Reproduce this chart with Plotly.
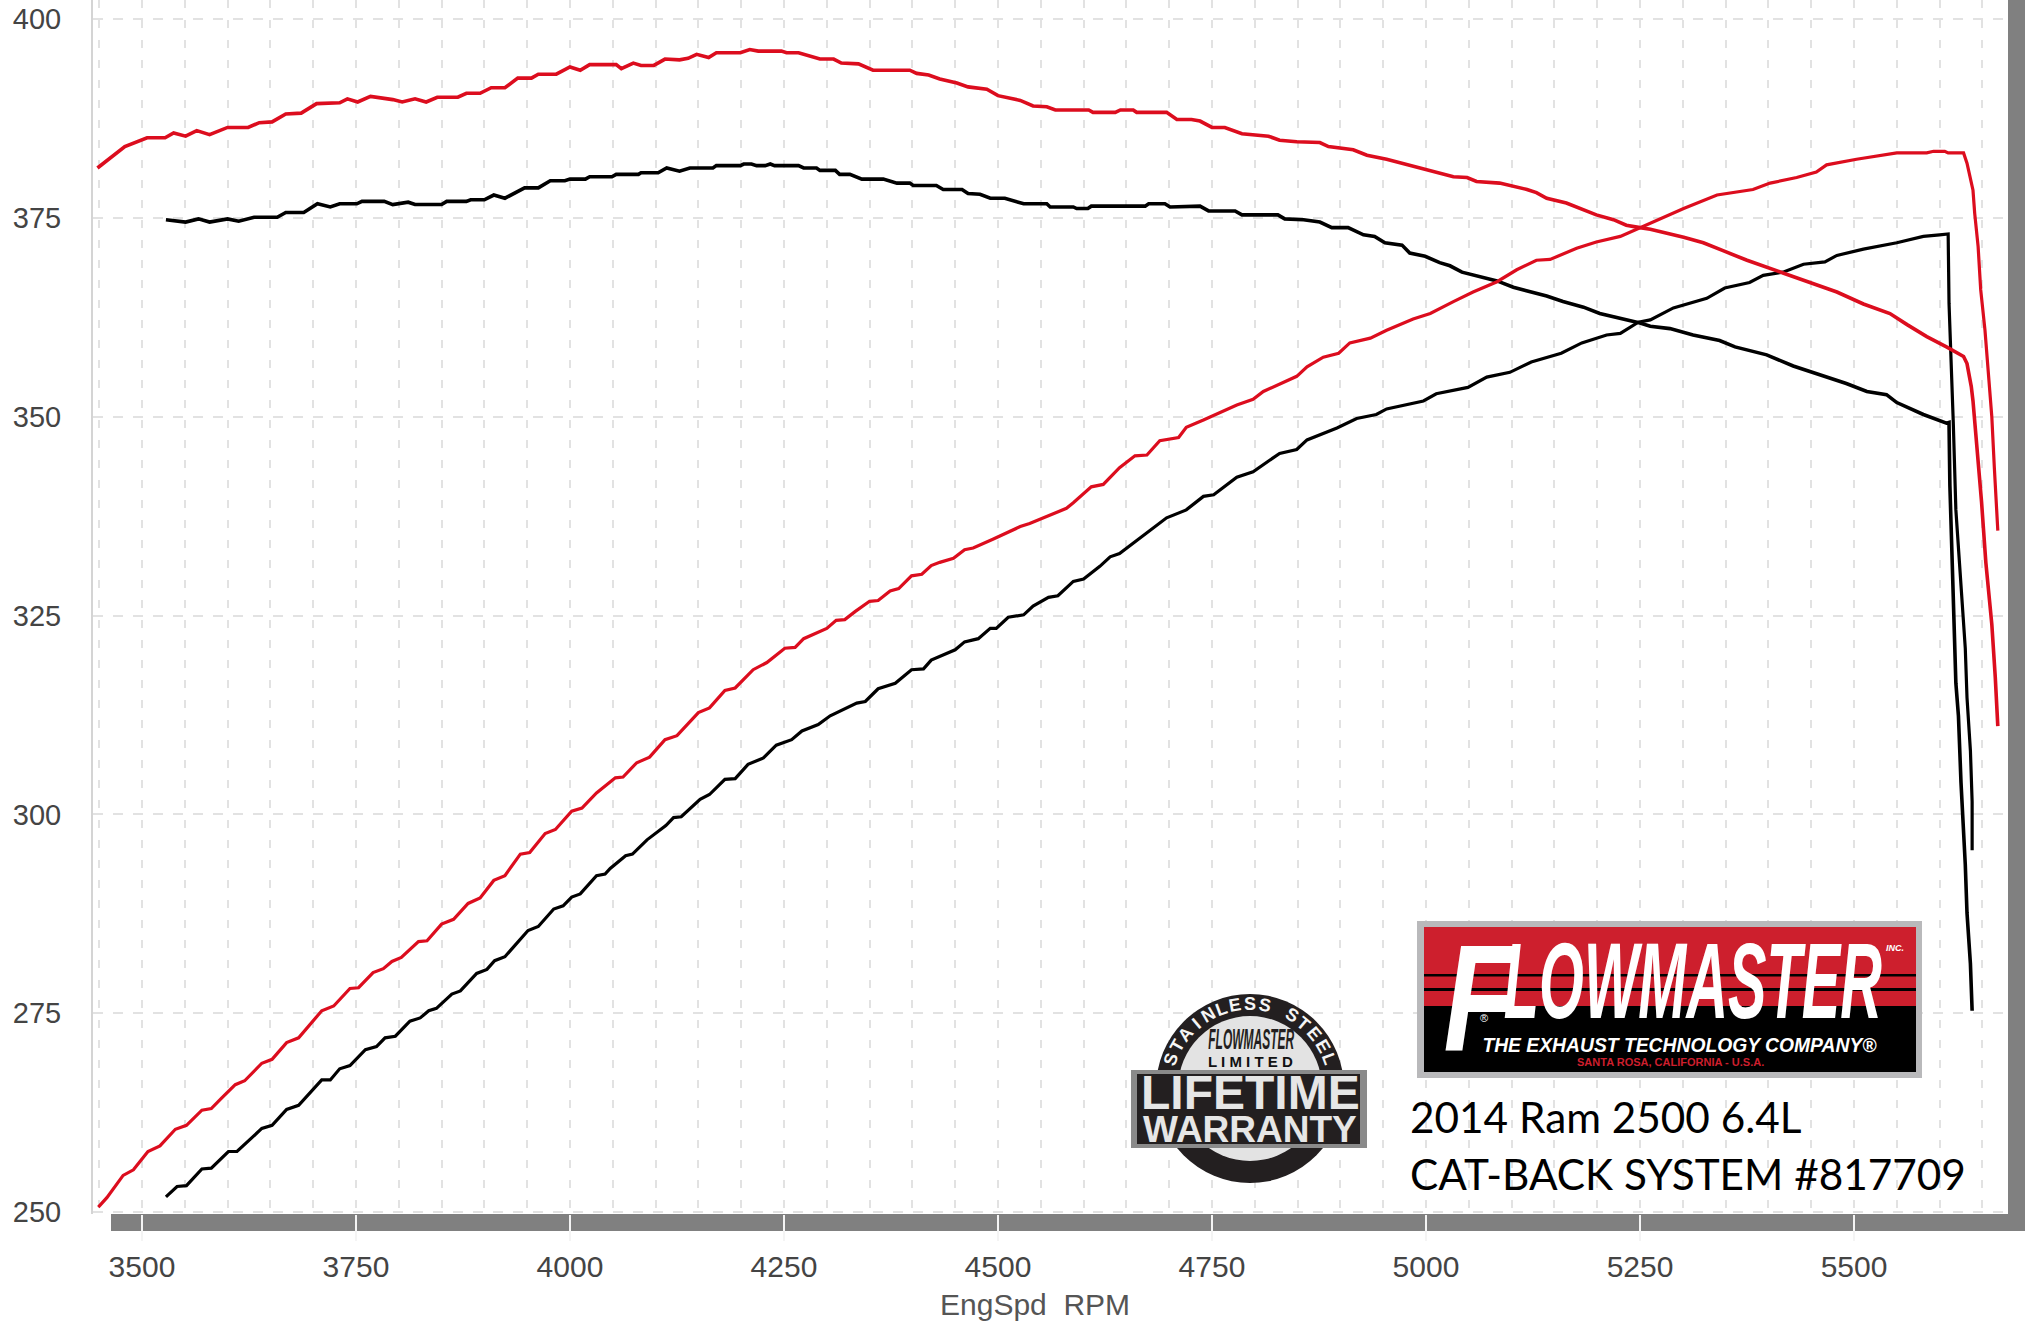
import json
import math
import plotly.graph_objects as go

# ---------- data ----------
red_top_rpm = [3448,3480,3506,3527,3537,3551,3564,3579,3600,3624,3637,3652,3668,3686,3704,3731,3740,3752,3767,3793,3804,3819,3832,3845,3869,3879,3895,3908,3924,3939,3955,3963,3984,4000,4012,4023,4054,4060,4074,4083,4098,4111,
4128,4138,4148,4162,4171,4199,4210,4220,4247,4253,4267,4282,4292,4308,4317,4337,4354,4397,4405,4419,4432,4452,4465,4487,4500,4526,4541,4557,4567,4606,4611,4637,4643,4658,4662,4697,4709,4726,
4736,4750,4765,4785,4816,4829,4849,4876,4886,4915,4931,4954,4985,5016,5032,5048,5059,5086,5118,5129,5141,5164,5199,5219,5234,5250,
5262,5301,5324,5347,5375,5417,5449,5480,5511,5542,5562,5585,5608,5628,5632,5637,5639,5643,5649,5654,5661,5665,5668]
red_top_val = [381.3,384.0,385.1,385.1,385.7,385.3,386.0,385.5,386.4,386.4,387.0,387.1,388.1,388.2,389.4,389.5,390.0,389.6,390.3,389.9,389.6,390.0,389.6,390.2,390.2,390.7,390.7,391.4,391.4,392.6,392.6,393.1,393.1,394.0,393.6,394.3,394.3,393.8,394.5,394.2,394.2,395.0,
394.9,395.1,395.6,395.2,395.8,395.8,396.2,396.0,396.0,395.8,395.8,395.3,395.0,395.0,394.5,394.4,393.6,393.6,393.2,393.0,392.5,392.0,391.5,391.2,390.4,389.8,389.1,389.0,388.6,388.6,388.3,388.3,388.6,388.6,388.3,388.3,387.4,387.4,
387.2,386.4,386.4,385.6,385.3,384.8,384.6,384.5,384.0,383.6,382.9,382.4,381.5,380.7,380.2,380.1,379.6,379.4,378.6,378.2,377.5,376.9,375.4,374.8,374.1,373.8,
373.6,372.6,371.9,370.9,369.7,368.1,366.9,365.7,364.2,363.0,361.6,360.1,358.8,357.6,356.7,353.8,352.0,347.0,339.3,331.7,323.9,317.3,311.1]

black_top_rpm = [3528,3551,3566,3579,3600,3613,3631,3658,3668,3689,3705,3720,3731,3751,3757,3783,3793,3811,3819,3850,3856,3879,3884,3900,3911,3924,3947,3963,3977,3994,4000,4018,4023,4049,4054,4080,4083,4103,4113,
4128,4140,4167,4171,4199,4203,4212,4218,4228,4234,4239,4267,4273,4288,4292,4310,4315,4327,4341,4366,4382,4397,4401,4428,4436,4458,4465,4479,4491,4508,4530,4557,4561,4588,4592,4605,4609,4672,4676,4695,4701,
4736,4746,4777,4785,4827,4835,4857,4876,4890,4909,4927,4940,4952,4972,4981,4999,5016,5028,5042,5063,5083,5102,5141,5160,5184,5203,5227,5250,
5262,5285,5312,5343,5361,5398,5429,5460,5491,5515,5538,5550,5581,5608,5611,5612,5614,5617,5619,5622,5625,5630,5632,5636,5638]
black_top_val = [374.8,374.5,374.9,374.5,374.9,374.6,375.1,375.1,375.7,375.7,376.8,376.4,376.8,376.8,377.1,377.1,376.7,377.0,376.7,376.7,377.1,377.1,377.3,377.3,377.9,377.5,378.8,378.8,379.7,379.7,379.9,379.9,380.2,380.2,380.5,380.5,380.7,380.7,381.3,
380.9,381.3,381.3,381.6,381.6,381.8,381.8,381.6,381.6,381.8,381.6,381.6,381.3,381.3,381.0,381.0,380.5,380.5,379.9,379.9,379.4,379.4,379.1,379.1,378.6,378.6,378.1,378.0,377.5,377.5,376.8,376.8,376.4,376.4,376.2,376.2,376.5,376.5,376.8,376.8,376.4,
376.5,375.9,375.9,375.4,375.4,374.9,374.8,374.5,373.8,373.8,372.9,372.7,371.9,371.6,370.6,370.2,369.4,369.0,368.2,367.6,367.1,366.3,365.2,364.5,363.8,363.0,362.4,361.8,
361.4,361.1,360.3,359.6,358.8,357.8,356.4,355.3,354.2,353.2,352.8,351.8,350.3,349.2,349.3,341.4,333.2,325.0,316.5,312.4,304.0,293.7,287.6,281.2,275.3]

red_rise_rpm = [3449,3459,3478,3490,3507,3521,3539,3552,3570,3581,3593,3609,3620,3640,3652,3669,3683,3710,3724,3743,3753,3770,3782,3792,3803,3823,3833,3850,3864,3881,3895,3911,3924,3942,3953,3971,3983,4002,4014,4031,
4053,4062,4078,4093,4111,4125,4150,4163,4181,4193,4214,4230,4251,4263,4273,4300,4311,4321,4333,4350,4360,4374,4384,4399,4411,4422,4432,4448,4461,4471,4494,4526,4537,4580,4588,4609,4623,
4642,4660,4674,4689,4711,4720,4740,4779,4798,4810,4849,4861,4880,4898,4911,4935,4954,4985,5005,5032,5055,5083,5106,5129,5145,5176,5199,5227,5248,
5275,5301,5340,5382,5402,5433,5456,5468,5503,5530,5550,5585,5593,5606,5610,5628,5632,5639,5641,5645,5648,5653,5657,5661,5664,5668]
red_rise_val = [250.6,251.8,254.6,255.3,257.6,258.3,260.4,260.9,262.8,263.0,264.3,266.0,266.5,268.7,269.2,271.3,271.9,275.3,275.9,278.1,278.2,280.1,280.6,281.5,282.0,284.0,284.1,286.2,286.8,288.8,289.5,291.7,292.3,295.0,295.2,297.6,298.1,300.4,300.8,302.7,
304.6,304.7,306.5,307.2,309.4,309.9,312.8,313.4,315.6,315.9,318.2,319.1,320.9,321.0,322.1,323.4,324.4,324.5,325.5,326.8,326.9,328.1,328.4,330.0,330.2,331.3,331.7,332.2,333.3,333.5,334.6,336.2,336.6,338.5,339.2,341.2,341.5,
343.6,345.1,345.2,347.0,347.4,348.7,349.6,351.5,352.2,353.2,355.1,356.3,357.5,358.0,359.3,359.9,360.9,362.3,363.0,364.5,365.7,367.0,368.5,369.7,369.8,371.2,372.0,372.7,373.7,
375.0,376.2,377.9,378.6,379.4,380.1,380.8,381.7,382.4,382.9,383.2,383.2,383.4,383.4,383.2,383.2,381.9,378.5,375.6,371.4,366.0,360.9,355.1,350.0,343.5,335.7]

black_rise_rpm = [3528,3541,3552,3570,3581,3601,3611,3640,3652,3669,3683,3710,3720,3731,3743,3761,3774,3784,3796,3813,3825,3835,3844,3862,3872,3891,3903,3912,3924,3951,3963,3981,3992,4002,4012,4031,4041,4047,4065,4073,4090,4105,4112,
4121,4130,4152,4163,4181,4193,4208,4226,4241,4259,4271,4290,4304,4335,4345,4360,4380,4399,4413,4422,4450,4461,4477,4491,4498,4512,4530,4541,4559,4570,4588,4600,4619,4631,4642,
4697,4720,4740,4752,4779,4798,4829,4849,4861,4896,4919,4942,4954,4997,5012,5049,5071,5098,5123,5158,5182,5211,5227,5248,
5262,5289,5328,5349,5378,5394,5417,5441,5466,5480,5511,5550,5581,5600,5610,5611,5614,5616,5619,5624,5630,5632,5636,5638,5638]
black_rise_val = [251.9,253.2,253.3,255.4,255.5,257.6,257.6,260.5,260.9,262.9,263.4,266.6,266.6,268.0,268.4,270.4,270.8,271.9,272.1,274.0,274.4,275.3,275.6,277.4,277.8,280.0,280.5,281.6,282.1,285.4,285.9,288.1,288.5,289.6,290.0,292.3,292.5,293.2,294.8,295.0,296.8,298.0,298.6,
299.6,299.7,301.9,302.5,304.4,304.5,306.3,307.1,308.7,309.4,310.5,311.3,312.4,314.0,314.2,315.8,316.5,318.2,318.3,319.4,320.7,321.7,322.1,323.4,323.4,324.8,325.1,326.2,327.3,327.5,329.3,329.6,331.2,332.4,332.8,
337.3,338.3,340.0,340.2,342.4,343.1,345.4,345.9,347.1,348.6,349.8,350.3,351.0,352.0,352.9,353.7,355.0,355.6,356.9,358.0,359.3,360.3,360.5,361.9,
362.2,363.7,364.9,366.2,366.9,367.8,368.2,369.2,369.5,370.3,371.1,371.9,372.7,372.9,373.0,364.3,355.9,349.2,338.3,330.0,320.9,314.7,308.0,301.6,295.5]

x_tick_vals = [3500,3750,4000,4250,4500,4750,5000,5250,5500]
y_tick_vals = [250,275,300,325,350,375,400]
x_title = "EngSpd  RPM"
caption_lines = ["2014 Ram 2500 6.4L", "CAT-BACK SYSTEM #817709"]
arc_text = "STAINLESS STEEL"

# ---------- page geometry ----------
W, H = 2025, 1321
L, R, B = 93, 2008, 1214
RED, BLACK = "#dc0d1e", "#000000"
LOGO_RED = "#cd1f2d"
SANS = "Liberation Sans"

def X(px): return (px - L) / (R - L)
def Y(py): return (B - py) / B

shapes, notes = [], []
def box(x0, y0, x1, y1, color, layer="above", kind="rect"):
    shapes.append(dict(type=kind, xref="paper", yref="paper", x0=X(x0), x1=X(x1), y0=Y(y1), y1=Y(y0),
                       fillcolor=color, line=dict(width=0), layer=layer))
def label(px, py, text, size, color, family=SANS, weight=400, style="normal", angle=0, xanchor="center"):
    notes.append(dict(xref="paper", yref="paper", x=X(px), y=Y(py), text=text, showarrow=False,
                      xanchor=xanchor, yanchor="middle", textangle=angle, borderpad=0, borderwidth=0,
                      font=dict(family=family, size=size, color=color, weight=weight, style=style)))

# frame bars
box(111, 1214, W, 1231, "#808080", layer="below")
box(R, 0, W, 1231, "#808080", layer="below")

# warranty badge
box(1156, 994, 1344, 1183, "#231f20", kind="circle")
box(1178, 1016, 1322, 1161, "#e3e3e3", kind="circle")
box(1131, 1070, 1367, 1148, "#8a8a8a")
box(1137, 1074, 1360, 1144, "#231f20")
for i, ch in enumerate(arc_text):
    ang = -70 + 10 * i
    if ch == " ":
        continue
    rad = math.radians(ang)
    label(1250 + 84 * math.sin(rad), 1088 - 84 * math.cos(rad), ch, 18, "#f5f5f5", weight=700, angle=ang)
label(1251, 1039, "FLOWMASTER", 26, "#231f20", weight=700, style="italic")
label(1250, 1061, "L I M I T E D", 15, "#111111", weight=700)
label(1250, 1092, "LIFETIME", 48, "#e6e6e6", weight=700)
label(1250, 1129, "WARRANTY", 37, "#e6e6e6", weight=700)

# Flowmaster logo
box(1417, 921, 1922, 1078, "#b9b9bb")
box(1424, 927, 1916, 1006, LOGO_RED)
box(1424, 1006, 1916, 1072, "#000000")
box(1424, 974, 1916, 976.5, "#000000")
box(1424, 988, 1916, 991, "#000000")
label(1480, 997, "F", 150, "#ffffff", weight=700, style="italic")
label(1693, 981, "LOWMASTER", 104, "#ffffff", weight=700, style="italic")
label(1895, 948, "INC.", 9, "#ffffff", weight=700, style="italic")
label(1484, 1018, "®", 11, "#ffffff")
label(1679, 1044, "THE EXHAUST TECHNOLOGY COMPANY®", 21, "#ffffff", weight=700, style="italic")
label(1670, 1062, "SANTA ROSA, CALIFORNIA - U.S.A.", 11, LOGO_RED, weight=700)

# caption
label(1410, 1116, caption_lines[0], 42.3, "#000000", family="Lato", xanchor="left")
label(1410, 1173, caption_lines[1], 42.3, "#000000", family="Lato", xanchor="left")

# axis title
label(1035, 1304, x_title, 30, "#555555", family=SANS)

fig = go.Figure()
for xs, ys, color, width in [
    (black_top_rpm, black_top_val, BLACK, 3.6),
    (black_rise_rpm, black_rise_val, BLACK, 3.2),
    (red_top_rpm, red_top_val, RED, 3.6),
    (red_rise_rpm, red_rise_val, RED, 3.2),
]:
    fig.add_trace(go.Scatter(x=xs, y=ys, mode="lines", line=dict(color=color, width=width), showlegend=False))

GRID = "#e2e2e2"
fig.update_layout(
    width=W, height=H, margin=dict(l=L, r=W - R, t=0, b=H - B, autoexpand=False),
    paper_bgcolor="white", plot_bgcolor="white", shapes=shapes, annotations=notes, showlegend=False,
    xaxis=dict(range=[3442.8, 5679.9], tickmode="array", tickvals=x_tick_vals, ticktext=[str(v) for v in x_tick_vals],
               ticks="outside", ticklen=26, tickcolor="#f4f4f4", tickwidth=2, zeroline=False,
               showgrid=True, gridcolor=GRID, gridwidth=1.5, griddash="8px,12px",
               minor=dict(dtick=50, tick0=3500, showgrid=True, gridcolor=GRID, gridwidth=1.5, griddash="8px,12px", ticks=""),
               tickfont=dict(family=SANS, size=30, color="#444444"), showline=False),
    yaxis=dict(range=[249.74, 402.43], tickmode="array", tickvals=y_tick_vals, ticktext=[str(v) for v in y_tick_vals],
               ticks="outside", ticklen=24, tickcolor="rgba(0,0,0,0)", zeroline=False,
               showgrid=True, gridcolor=GRID, gridwidth=1.5, griddash="10px,10px",
               tickfont=dict(family=SANS, size=29, color="#444444"),
               showline=True, linecolor="#d4d4d4", linewidth=2),
)

# logo wordmarks are condensed lettering: target width in pixels, vertical stretch
fit = {"F": [74, 1.02], "LOWMASTER": [378, 1.03], "FLOWMASTER": [86, 1.1],
       "THE EXHAUST TECHNOLOGY COMPANY®": [395, 1.0]}
post = """
document.body.style.margin = '0';
var FIT = %s;
setTimeout(function () {
  document.querySelectorAll('text.annotation-text').forEach(function (t) {
    var f = FIT[t.textContent];
    if (!f) return;
    var b = t.getBBox(), cx = b.x + b.width / 2, cy = b.y + b.height / 2;
    t.setAttribute('transform', 'translate(' + cx + ',' + cy + ') scale(' + (f[0] / b.width) + ',' + f[1] + ') translate(' + (-cx) + ',' + (-cy) + ')');
  });
}, 50);
""" % json.dumps(fit, ensure_ascii=False)
fig.write_html("out.html", post_script=post, config={"displayModeBar": False})
